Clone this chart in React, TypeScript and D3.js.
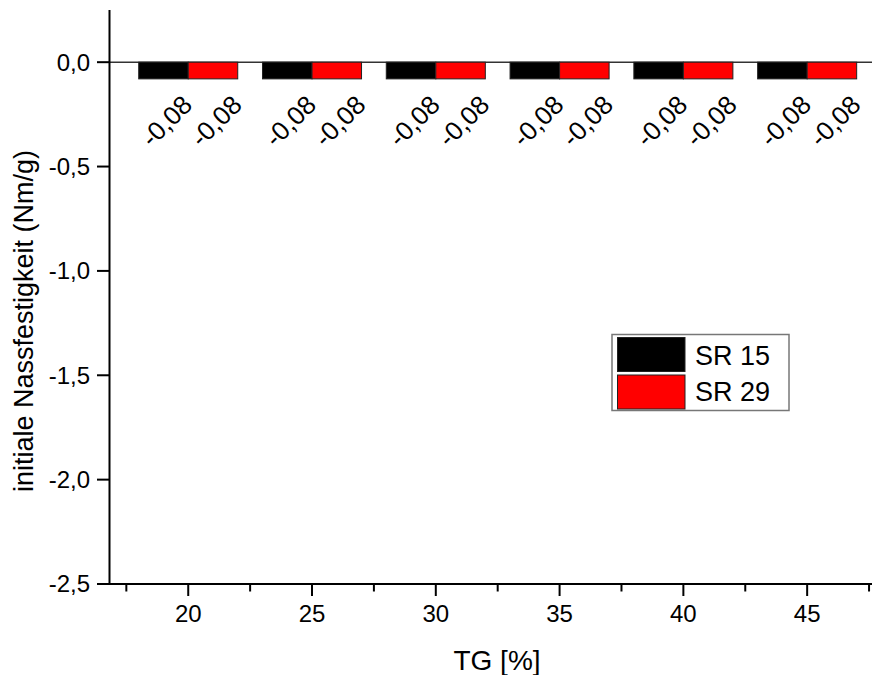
import React from "react";
import * as d3 from "d3";

const categories = [20, 25, 30, 35, 40, 45];
const seriesNames = ["SR 15", "SR 29"];
const sr15 = [-0.08, -0.08, -0.08, -0.08, -0.08, -0.08];
const sr29 = [-0.08, -0.08, -0.08, -0.08, -0.08, -0.08];
const seriesColors = ["#000000", "#ff0000"];
const yTicks = [0, -0.5, -1.0, -1.5, -2.0, -2.5];
const xMinorTicks = [17.5, 22.5, 27.5, 32.5, 37.5, 42.5, 47.5];

const W = 872;
const H = 675;
const FONT = "'Liberation Sans', Arial, sans-serif";

export default function App() {
  const x = d3.scaleLinear().domain([16.82, 47.7]).range([109.5, 874]);
  const y = d3.scaleLinear().domain([-2.5, 0.25]).range([584, 10]);
  const barW = 2; // in data units
  const fmt = (v: number) => d3.format(".1f")(v).replace(".", ",").replace("\u2212", "-");
  const fmt2 = (v: number) => d3.format(".2f")(v).replace(".", ",").replace("\u2212", "-");
  const series = [sr15, sr29];

  return (
    <svg width={W} height={H} style={{ position: "absolute", left: 0, top: 0, background: "#fff" }}>
      <rect x={0} y={0} width={W} height={H} fill="#fff" />
      {/* zero line */}
      <line x1={x.range()[0]} x2={W} y1={y(0)} y2={y(0)} stroke="#333" strokeWidth={1.5} />
      {/* bars */}
      {categories.map((c, i) =>
        series.map((s, k) => {
          const x0 = k === 0 ? x(c - barW) : x(c);
          const x1 = k === 0 ? x(c) : x(c + barW);
          const v = s[i];
          return (
            <rect
              key={`b${i}-${k}`}
              x={x0}
              y={y(0)}
              width={x1 - x0}
              height={y(v) - y(0)}
              fill={seriesColors[k]}
              stroke="#222"
              strokeWidth={1}
            />
          );
        })
      )}
      {/* value labels */}
      {categories.map((c, i) =>
        series.map((s, k) => {
          const cx = x(k === 0 ? c - barW / 2 : c + barW / 2) + 3;
          const cy = 121;
          return (
            <text
              key={`l${i}-${k}`}
              x={cx}
              y={cy}
              dy="0.35em"
              textAnchor="middle"
              transform={`rotate(-45 ${cx} ${cy})`}
              fontFamily={FONT}
              fontSize={26}
              fill="#000"
            >
              {fmt2(s[i])}
            </text>
          );
        })
      )}
      {/* y axis */}
      <line x1={109.5} x2={109.5} y1={y.range()[1]} y2={585} stroke="#000" strokeWidth={2} />
      {yTicks.map((t) => (
        <g key={`yt${t}`}>
          <line x1={97} x2={109.5} y1={y(t)} y2={y(t)} stroke="#000" strokeWidth={2} />
          <text x={90} y={y(t)} dy="0.35em" textAnchor="end" fontFamily={FONT} fontSize={24} fill="#000">
            {fmt(t)}
          </text>
        </g>
      ))}
      {/* x axis */}
      <line x1={108.5} x2={W} y1={584} y2={584} stroke="#000" strokeWidth={2} />
      {categories.map((t) => (
        <g key={`xt${t}`}>
          <line x1={x(t)} x2={x(t)} y1={584} y2={596} stroke="#000" strokeWidth={2} />
          <text x={x(t)} y={622} textAnchor="middle" fontFamily={FONT} fontSize={24} fill="#000">
            {t}
          </text>
        </g>
      ))}
      {xMinorTicks.map((t) => (
        <line key={`xm${t}`} x1={x(t)} x2={x(t)} y1={584} y2={591.5} stroke="#000" strokeWidth={2} />
      ))}
      {/* axis titles */}
      <text x={497} y={670} textAnchor="middle" fontFamily={FONT} fontSize={28} fill="#000">
        TG [%]
      </text>
      <text
        x={33}
        y={321}
        textAnchor="middle"
        transform={`rotate(-90 33 321)`}
        fontFamily={FONT}
        fontSize={27}
        fill="#000"
      >
        initiale Nassfestigkeit (Nm/g)
      </text>
      {/* legend */}
      <rect x={612} y={334.5} width={177} height={76} fill="#fff" stroke="#777" strokeWidth={1.5} />
      {seriesNames.map((n, k) => (
        <g key={`lg${k}`}>
          <rect
            x={617.5}
            y={337.5 + k * 37.5}
            width={67.5}
            height={34}
            fill={seriesColors[k]}
            stroke="#222"
            strokeWidth={1}
          />
          <text x={695} y={365 + k * 35.5} fontFamily={FONT} fontSize={27} fill="#000">
            {n}
          </text>
        </g>
      ))}
    </svg>
  );
}
